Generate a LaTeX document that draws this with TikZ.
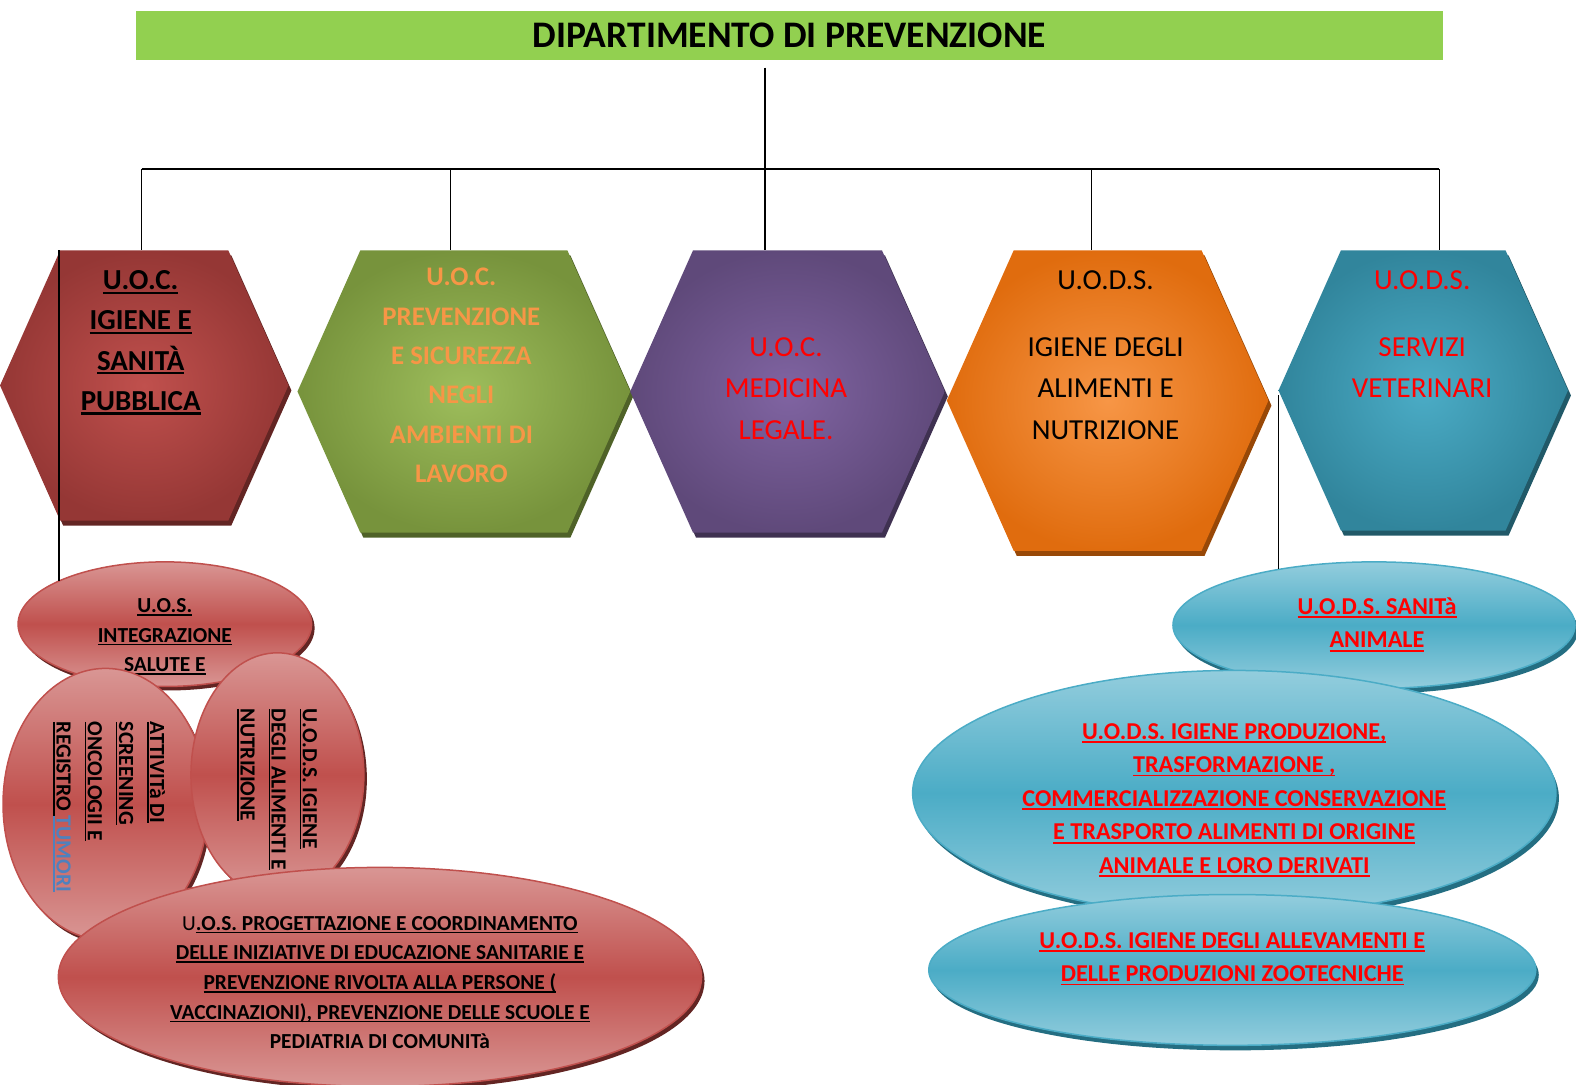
\documentclass[tikz,border=0pt]{standalone}
\usepackage{fontspec}
\setmainfont{Carlito}
\usetikzlibrary{shapes.geometric,shapes.symbols,shadows,positioning}
\definecolor{TitleGreen}{RGB}{146,208,80}
\definecolor{RedDark}{RGB}{149,55,53}
\definecolor{RedGlow}{RGB}{192,80,77}
\definecolor{RedShade}{RGB}{99,37,35}
\definecolor{RedPale}{RGB}{217,150,148}
\definecolor{RedBody}{RGB}{192,80,77}
\definecolor{GreenDark}{RGB}{119,147,60}
\definecolor{GreenGlow}{RGB}{158,190,92}
\definecolor{GreenShade}{RGB}{79,98,40}
\definecolor{PurpleDark}{RGB}{95,73,122}
\definecolor{PurpleGlow}{RGB}{128,100,162}
\definecolor{PurpleShade}{RGB}{63,49,81}
\definecolor{OrangeDark}{RGB}{224,108,14}
\definecolor{OrangeGlow}{RGB}{247,150,70}
\definecolor{OrangeShade}{RGB}{152,72,7}
\definecolor{TealDark}{RGB}{49,133,156}
\definecolor{TealGlow}{RGB}{75,172,198}
\definecolor{TealShade}{RGB}{33,89,104}
\definecolor{SkyPale}{RGB}{147,205,221}
\definecolor{SkyBody}{RGB}{75,172,198}
\definecolor{SkyShade}{RGB}{36,110,130}
\definecolor{LabelOrange}{RGB}{247,150,70}
\definecolor{LabelRed}{RGB}{255,0,0}
\definecolor{LinkBlue}{RGB}{79,129,189}
\newcommand{\sott}[1]{\setbox0=\hbox{#1}\rlap{\rule[-0.15em]{\wd0}{0.075em}}\box0}
\newcommand{\fsz}[2]{\fontsize{#1}{#2}\selectfont}

\begin{document}
\begin{tikzpicture}[x=1.005pt,y=-1.005pt,
  wire/.style={line width=1.5pt},
  hexa/.style={signal,signal to=east and west,signal from=nowhere,
    signal pointer angle=132,inner sep=0pt},
  hexshadow/.style={drop shadow={shadow xshift=3pt,shadow yshift=-5pt,fill=#1,opacity=1}},
  hexlabel/.style={anchor=north,align=center,inner sep=0pt},
  bubble/.style={ellipse,inner sep=0pt,line width=1.5pt},
  redbubble/.style={bubble,draw=RedBody,top color=RedPale,bottom color=RedPale,middle color=RedBody,
    drop shadow={shadow xshift=3pt,shadow yshift=-4pt,fill=RedShade,opacity=1}},
  skybubble/.style={bubble,draw=SkyBody,top color=SkyPale,bottom color=SkyPale,middle color=SkyBody,
    drop shadow={shadow xshift=3pt,shadow yshift=-5pt,fill=SkyShade,opacity=1}},
  redtxt/.style={align=center,inner sep=0pt,anchor=north,font=\fsz{21.4}{29.6}\bfseries},
  skytxt/.style={align=center,inner sep=0pt,anchor=north,text=LabelRed,font=\fsz{24.2}{33.6}\bfseries}]
  \useasboundingbox (0,0) rectangle (1568,1078.6);
  \node[fill=TitleGreen,minimum width=1307.5pt,minimum height=49.2pt,inner sep=0pt,
    font=\fsz{37.5}{42}\bfseries] (title) at (785.5,35.5) {DIPARTIMENTO DI PREVENZIONE};

  \node[hexa,minimum width=288.4pt,minimum height=270.3pt,inner color=RedGlow,outer color=RedDark,
    hexshadow=RedShade] (igiene) at (143.5,383.5) {};
  \node[hexa,minimum width=332.7pt,minimum height=282.4pt,inner color=GreenGlow,outer color=GreenDark,
    hexshadow=GreenShade] (prevenzione) at (461.5,389.5) {};
  \node[hexa,minimum width=314.6pt,minimum height=282.4pt,inner color=PurpleGlow,outer color=PurpleDark,
    hexshadow=PurpleShade] (medicina) at (783.5,389.5) {};
  \node[hexa,minimum width=321.6pt,minimum height=300.5pt,inner color=OrangeGlow,outer color=OrangeDark,
    hexshadow=OrangeShade] (alimenti) at (1102,398.5) {};
  \node[hexa,minimum width=289.4pt,minimum height=280.4pt,inner color=TealGlow,outer color=TealDark,
    hexshadow=TealShade] (veterinari) at (1416,388.5) {};

  \node[hexlabel,font=\fsz{29}{40.2}\bfseries] (igiene-t) at (140,269)
    {\sott{U.O.C.}\\\sott{IGIENE E}\\\sott{SANITÀ}\\\sott{PUBBLICA}};
  \node[hexlabel,text=LabelOrange,font=\fsz{26.8}{39.4}\bfseries] (prevenzione-t) at (459,266.6)
    {U.O.C.\\PREVENZIONE\\E SICUREZZA\\NEGLI\\AMBIENTI DI\\LAVORO};
  \node[hexlabel,text=LabelRed,font=\fsz{29}{41.2}] (medicina-t) at (782,336)
    {U.O.C.\\MEDICINA\\LEGALE.};
  \node[hexlabel,font=\fsz{29}{41.2}] (alimenti-t) at (1100,269)
    {U.O.D.S.\\[26pt]IGIENE DEGLI\\ALIMENTI E\\NUTRIZIONE};
  \node[hexlabel,text=LabelRed,font=\fsz{29}{41.2}] (veterinari-t) at (1415,269)
    {U.O.D.S.\\[26pt]SERVIZI\\VETERINARI};

  \coordinate (bus) at (761,168);
  \draw[wire] (title.south -| bus) ++(0,7) -- (bus);
  \draw[wire] (141,168) -- (1432,168);
  \foreach \dx/\hx in {141/igiene,448/prevenzione,761/medicina,1086/alimenti,1432/veterinari}
    \draw[wire] (\dx,168) -- (\dx,168 |- \hx.north);

  \node[redbubble,minimum width=293.5pt,minimum height=124.6pt] (integrazione) at (164,621) {};
  \node[redtxt] (integrazione-t) at (164,595.3) {\sott{U.O.S.}\\\sott{INTEGRAZIONE}\\\sott{SALUTE E}};
  \node[redbubble,minimum width=205pt,minimum height=271.4pt] (screening) at (105,800) {};
  \node[redtxt,rotate=-90,anchor=north west,align=left,font=\fsz{21.6}{31.2}\bfseries] (screening-t) at (164.5,718)
    {\sott{ATTIVITà DI}\\\sott{SCREENING}\\\sott{ONCOLOGII E}\\\sott{REGISTRO }{\color{LinkBlue}\sott{TUMORI}}};
  \node[redbubble,minimum width=172.9pt,minimum height=244.2pt] (uodsalim) at (276,771) {};
  \node[redtxt,rotate=-90,anchor=north west,align=left,font=\fsz{21.6}{31.2}\bfseries] (uodsalim-t) at (315.7,705)
    {\sott{U.O.D.S. IGIENE}\\\sott{DEGLI ALIMENTI E}\\\sott{NUTRIZIONE}};
  \node[redbubble,minimum width=643.2pt,minimum height=219.1pt] (progetto) at (378,972) {};
  \node[redtxt] (progetto-t) at (378,911.3)
    {{\mdseries U}\sott{.O.S. PROGETTAZIONE E COORDINAMENTO}\\
     \sott{DELLE INIZIATIVE DI EDUCAZIONE SANITARIE E}\\
     \sott{PREVENZIONE RIVOLTA ALLA PERSONE (}\\
     \sott{VACCINAZIONI), PREVENZIONE DELLE SCUOLE E}\\
     PEDIATRIA DI COMUNITà};

  \node[skybubble,minimum width=402pt,minimum height=126.6pt] (sanitaanim) at (1367,622) {};
  \node[skytxt] (sanitaanim-t) at (1370,594.4) {\sott{U.O.D.S. SANITà}\\\sott{ANIMALE}};
  \node[skybubble,minimum width=643.2pt,minimum height=245.2pt] (produzione) at (1228,789) {};
  \node[skytxt] (produzione-t) at (1228,719.4)
    {\sott{U.O.D.S. IGIENE PRODUZIONE,}\\\sott{TRASFORMAZIONE ,}\\
     \sott{COMMERCIALIZZAZIONE CONSERVAZIONE}\\\sott{E TRASPORTO ALIMENTI DI ORIGINE}\\
     \sott{ANIMALE E LORO DERIVATI}};
  \node[skybubble,minimum width=607pt,minimum height=150.8pt] (allevamenti) at (1226,965) {};
  \node[skytxt] (allevamenti-t) at (1226,927.4)
    {\sott{U.O.D.S. IGIENE DEGLI ALLEVAMENTI E}\\\sott{DELLE PRODUZIONI ZOOTECNICHE}};

  \coordinate (igdrop) at ([xshift=-85.4pt]igiene.north);
  \draw[wire] (igdrop) -- (igdrop |- integrazione.158);
  \coordinate (vetdrop) at ([yshift=-5pt]veterinari.west);
  \draw[wire] (vetdrop) -- (vetdrop |- sanitaanim.150);
\end{tikzpicture}
\end{document}
